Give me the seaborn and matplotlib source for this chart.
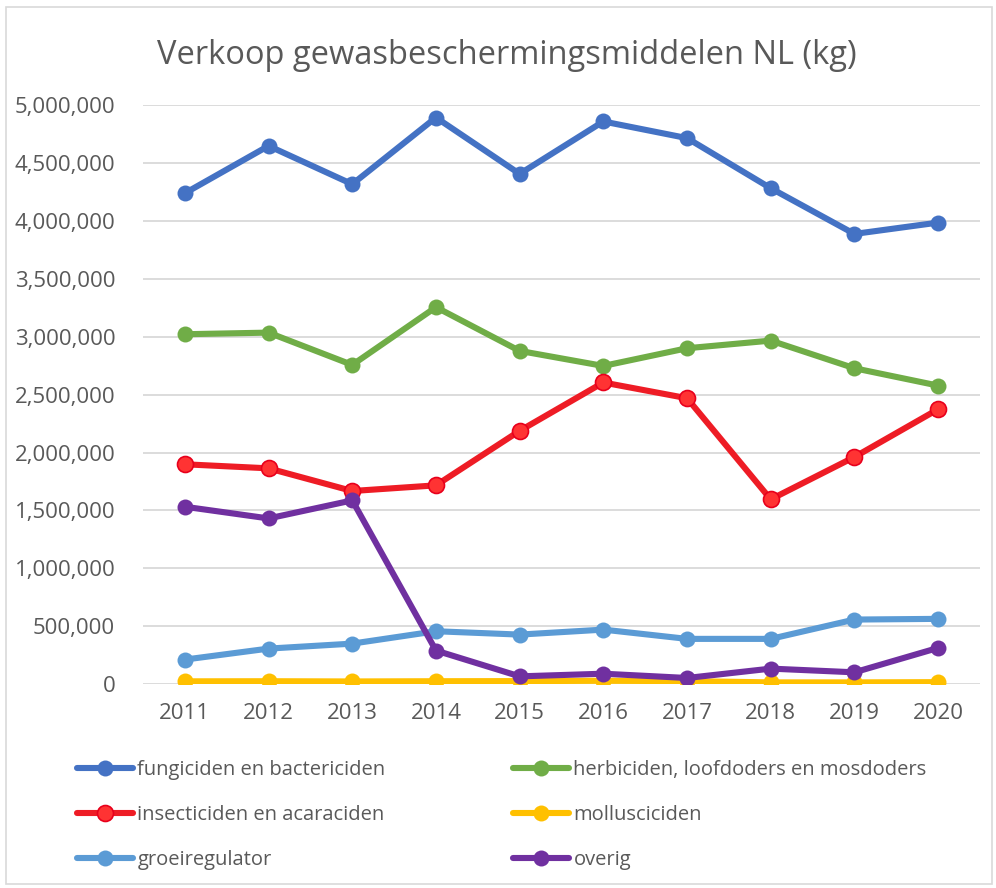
import matplotlib
matplotlib.use("Agg")
import matplotlib.pyplot as plt
import matplotlib.ticker as mticker
from matplotlib.patches import Rectangle
import seaborn as sns
import pandas as pd

# data (kg)
YEARS = [2011, 2012, 2013, 2014, 2015, 2016, 2017, 2018, 2019, 2020]
SERIES = [
    "fungiciden en bactericiden",
    "herbiciden, loofdoders en mosdoders",
    "insecticiden en acaraciden",
    "mollusciciden",
    "groeiregulator",
    "overig",
]
fungiciden = [4242000, 4651000, 4320000, 4896000, 4409000, 4862000, 4718000, 4285000, 3890000, 3988000]
herbiciden = [3023000, 3037000, 2758000, 3257000, 2879000, 2749000, 2902000, 2968000, 2729000, 2579000]
insecticiden = [1899000, 1864000, 1668000, 1717000, 2188000, 2606000, 2470000, 1596000, 1962000, 2375000]
mollusciciden = [23000, 24000, 22000, 24000, 25000, 28000, 25000, 14000, 14000, 16000]
groeiregulator = [211000, 306000, 349000, 456000, 427000, 470000, 390000, 390000, 557000, 563000]
overig = [1532000, 1431000, 1587000, 289000, 66000, 89000, 52000, 133000, 101000, 312000]
COLORS = ["#4472C4", "#70AD47", "#EE1C25", "#FFC000", "#5B9BD5", "#7030A0"]
Y_TICKS = list(range(0, 5000001, 500000))

values = [fungiciden, herbiciden, insecticiden, mollusciciden, groeiregulator, overig]
df = pd.DataFrame({
    "jaar": YEARS * len(SERIES),
    "kg": [v for vals in values for v in vals],
    "soort": [s for s in SERIES for _ in YEARS],
})

sns.set_theme(style="white")
plt.rcParams["font.family"] = ["Open Sans", "DejaVu Sans"]
GREY = "#595959"

fig = plt.figure(figsize=(9.96, 8.88), dpi=100)
ax = fig.add_axes([143 / 996, 1 - 684 / 888, (980 - 143) / 996, (684 - 105.5) / 888])

sns.lineplot(data=df, x="jaar", y="kg", hue="soort", hue_order=SERIES,
             palette=COLORS, marker="o", markersize=11.5, linewidth=4.4,
             markeredgewidth=0, solid_joinstyle="round", ax=ax, legend=False)

# red markers in the original have a lighter fill with a darker rim
red_line = ax.lines[2]
red_line.set_markerfacecolor("#FF3333")
red_line.set_markeredgecolor("#E8001C")
red_line.set_markeredgewidth(1.2)

ax.set_xlim(2010.5, 2020.5)
ax.set_ylim(0, 5000000)
ax.set_xticks(YEARS)
ax.set_yticks(Y_TICKS)
ax.yaxis.set_major_formatter(mticker.FuncFormatter(lambda v, p: f"{int(v):,}"))
ax.grid(axis="y", color="#D9D9D9", linewidth=1.3)
ax.set_axisbelow(True)
for s in ax.spines.values():
    s.set_visible(False)
ax.tick_params(axis="y", length=0, pad=20, labelsize=16, labelcolor=GREY)
ax.tick_params(axis="x", length=0, pad=14, labelsize=16, labelcolor=GREY)
ax.set_xlabel("")
ax.set_ylabel("")

fig.text(507 / 996, 1 - 55 / 888, "Verkoop gewasbeschermingsmiddelen NL (kg)",
         ha="center", va="center", fontsize=23.5, color=GREY)

# legend: two single-column blocks so the columns sit where Excel put them
handles = ax.lines[:6]
leg_kw = dict(frameon=False, fontsize=14.5, handlelength=2.8, handletextpad=0.2,
              labelspacing=1.25, borderpad=0, borderaxespad=0, loc="upper left",
              labelcolor=GREY)
leg1 = fig.legend([handles[0], handles[2], handles[4]],
                  [SERIES[0], SERIES[2], SERIES[4]],
                  bbox_to_anchor=(77 / 996, 1 - 760 / 888), **leg_kw)
leg2 = fig.legend([handles[1], handles[3], handles[5]],
                  [SERIES[1], SERIES[3], SERIES[5]],
                  bbox_to_anchor=(513 / 996, 1 - 760 / 888), **leg_kw)

fig.patches.append(Rectangle((6 / 996, 4 / 888), 986 / 996, 877 / 888,
                             transform=fig.transFigure, fill=False,
                             edgecolor="#D9D9D9", linewidth=1.2))

fig.savefig("out.png", dpi=100)
